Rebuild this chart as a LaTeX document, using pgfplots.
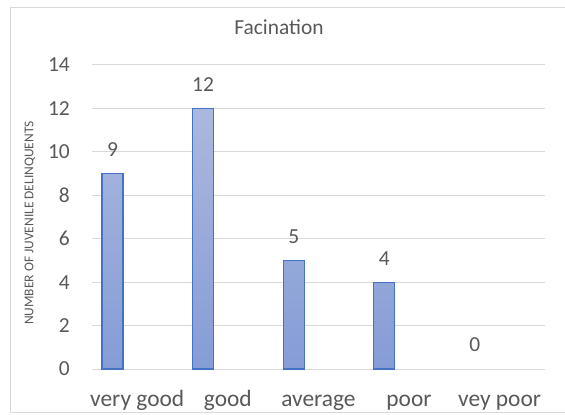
\documentclass[border=0pt]{standalone}
\usepackage{fontspec}
\setmainfont{Carlito}
\usepackage{pgfplots}
\pgfplotsset{compat=1.18}
\definecolor{txtgray}{RGB}{89,89,89}
\definecolor{gridgray}{RGB}{217,217,217}
\definecolor{barline}{RGB}{68,114,196}
\definecolor{bartop}{RGB}{171,184,222}
\definecolor{barbot}{RGB}{134,156,214}
\begin{document}
\begin{tikzpicture}[x=1bp,y=1bp]
  \useasboundingbox (0,0) rectangle (565,414);
  \fill[white] (0,0) rectangle (565,414);
  \draw[gridgray, line width=1bp] (10,2) rectangle (580,406);

  \begin{axis}[
    at={(92bp,45bp)}, anchor=south west,
    scale only axis,
    width=453bp, height=304bp,
    xmin=-0.226, xmax=4.774,
    ymin=0, ymax=14,
    ytick={0,2,...,14},
    xtick={0.273,1.273,2.273,3.273,4.273},
    xticklabels={very good, good, average, poor, vey poor},
    axis line style={draw=none},
    major tick length=0pt,
    ymajorgrids,
    grid style={gridgray, line width=1bp},
    /pgf/number format/assume math mode=true,
    xticklabel style={anchor=base, yshift=-37bp, text=txtgray, font=\fontsize{23.5}{27}\selectfont},
    yticklabel style={anchor=east, xshift=-22bp, inner xsep=0pt, text=txtgray, font=\fontsize{21.5}{25}\selectfont},
    nodes near coords,
    every node near coord/.append style={anchor=center, yshift=24bp, text=txtgray, font=\fontsize{21.5}{25}\selectfont},
  ]
    \addplot[ybar, bar width=0.232, bar shift=0pt, draw=barline, line width=1.2bp,
      top color=bartop, bottom color=barbot]
      coordinates {(0,9) (1,12) (2,5) (3,4)};
    \addplot[ybar, bar width=0.232, bar shift=0pt, draw=none, fill=none]
      coordinates {(4,0)};
  \end{axis}

  \node[text=txtgray, font=\fontsize{21.5}{25}\selectfont] at (279,387) {Facination};
  \node[text=txtgray, rotate=90, font=\fontsize{13.5}{16}\selectfont] at (30,191) {NUMBER OF JUVENILE DELINQUENTS};
\end{tikzpicture}
\end{document}
